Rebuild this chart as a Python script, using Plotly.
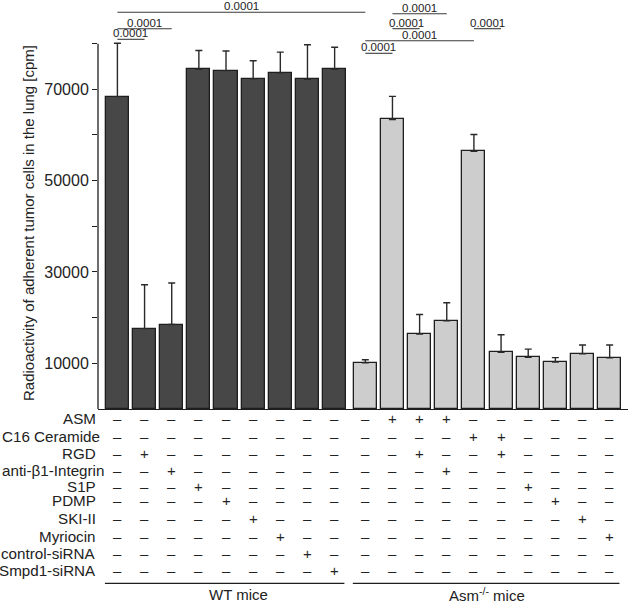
import plotly.graph_objects as go

# ---------------- data ----------------
treatments = ["ASM", "C16 Ceramide", "RGD", "anti-β1-Integrin", "S1P", "PDMP",
              "SKI-II", "Myriocin", "control-siRNA", "Smpd1-siRNA"]

wt_values = [68400, 17600, 18500, 74400, 74100, 72300, 73600, 72200, 74400]
wt_errors = [11700, 9600, 9100, 4100, 4300, 3950, 4550, 7550, 4800]
wt_plus = [[], ["RGD"], ["anti-β1-Integrin"], ["S1P"], ["PDMP"], ["SKI-II"],
           ["Myriocin"], ["control-siRNA"], ["Smpd1-siRNA"]]

asm_values = [10100, 63400, 16400, 19300, 56400, 12400, 11300, 10300, 12100, 11200]
asm_errors = [700, 5050, 4300, 3950, 3700, 3850, 1800, 950, 1900, 2800]
asm_plus = [[], ["ASM"], ["ASM", "RGD"], ["ASM", "anti-β1-Integrin"], ["C16 Ceramide"],
            ["C16 Ceramide", "RGD"], ["S1P"], ["PDMP"], ["SKI-II"], ["Myriocin"]]

y_tick_vals = [10000, 20000, 30000, 40000, 50000, 60000, 70000, 80000]
y_tick_text = ["10000", "", "30000", "", "50000", "", "70000", ""]

group_labels = ["WT mice", "Asm<sup>-/-</sup> mice"]
y_title = "Radioactivity of adherent tumor cells in the lung [cpm]"

# comparisons: (group a, bar a, group b, bar b, p-value text)
comparisons = [("WT", 0, "Asm", 0, "0.0001"),
               ("WT", 0, "WT", 2, "0.0001"),
               ("WT", 0, "WT", 1, "0.0001"),
               ("Asm", 1, "Asm", 3, "0.0001"),
               ("Asm", 1, "Asm", 2, "0.0001"),
               ("Asm", 4, "Asm", 5, "0.0001"),
               ("Asm", 0, "Asm", 4, "0.0001"),
               ("Asm", 0, "Asm", 1, "0.0001")]

# ---------------- layout helpers ----------------
W, H = 631, 603
ML, MR, MT, MB = 98, 3, 0, 194
PLOT_W = W - ML - MR
PLOT_H = H - MT - MB              # 409 px
PX_PER_UNIT = 45.67 / 10000.0
Y_MAX = PLOT_H / PX_PER_UNIT
GROUP_GAP = 0.13
BAR_W = 0.85
X_RANGE = [-0.715, 18.805]

wt_x = [i for i in range(len(wt_values))]
asm_x = [len(wt_values) + GROUP_GAP + j for j in range(len(asm_values))]
pos = {"WT": wt_x, "Asm": asm_x}


def py(px):
    """pixel row (from top of figure) -> paper y"""
    return (MT + PLOT_H - px) / PLOT_H


def yval(px):
    return (MT + PLOT_H - px) / PX_PER_UNIT


fig = go.Figure()

err_style = dict(type="data", symmetric=False, color="#2a2a2a", thickness=1.4, width=3.5)

fig.add_trace(go.Bar(
    x=wt_x, y=wt_values, width=BAR_W,
    marker=dict(color="#474747", line=dict(color="#1e1e1e", width=1.3)),
    error_y=dict(array=wt_errors, arrayminus=[0] * len(wt_errors), **err_style),
    showlegend=False, hoverinfo="skip"))

fig.add_trace(go.Bar(
    x=asm_x, y=asm_values, width=BAR_W,
    marker=dict(color="#cdcdcd", line=dict(color="#1e1e1e", width=1.3)),
    error_y=dict(array=asm_errors, arrayminus=[0] * len(asm_errors), **err_style),
    showlegend=False, hoverinfo="skip"))

shapes = []
annotations = []

# y axis spine (only up to 80000)
shapes.append(dict(type="line", xref="paper", yref="y", x0=0, x1=0, y0=0, y1=80000,
                   line=dict(color="#1e1e1e", width=1.3)))

# significance brackets (line level in pixels from top)
bracket_px = [12.3, 28.7, 39.3, 13.7, 28.7, 28.7, 40.7, 53.3]
for (ga, ia, gb, ib, txt), lp in zip(comparisons, bracket_px):
    xa, xb = pos[ga][ia], pos[gb][ib]
    lv = yval(lp)
    shapes.append(dict(type="line", xref="x", yref="y", x0=xa, x1=xb, y0=lv, y1=lv,
                       line=dict(color="#3a3a3a", width=1.1)))
    annotations.append(dict(x=(xa + xb) / 2, y=lv, xref="x", yref="y", text=txt,
                            showarrow=False, xanchor="center", yanchor="middle", yshift=6,
                            font=dict(size=11.5, color="#222")))

# treatment table
row_px = [418.3, 436, 453.3, 470.3, 486.7, 500.7, 518.3, 536, 553.3, 570.7]
left_aligned_rows = {"anti-β1-Integrin", "C16 Ceramide"}
all_x = wt_x + asm_x
all_plus = wt_plus + asm_plus
for r, (name, rp) in enumerate(zip(treatments, row_px)):
    if name in left_aligned_rows:
        lab = dict(x=-ML / PLOT_W, xanchor="left", xshift=0)
    else:
        lab = dict(x=0, xanchor="right", xshift=0)
    annotations.append(dict(y=py(rp), xref="paper", yref="paper", text=name,
                            showarrow=False, yanchor="middle",
                            font=dict(size=15.2, color="#222"), **lab))
    for xc, plus in zip(all_x, all_plus):
        annotations.append(dict(x=xc, y=py(rp), xref="x", yref="paper",
                                text="+" if name in plus else "–",
                                showarrow=False, xanchor="center", yanchor="middle",
                                font=dict(size=15, color="#222")))

# group lines and labels
line_py = py(583.3)
for xs, lab, lab_x in [(wt_x, group_labels[0], 4.47), (asm_x, group_labels[1], None)]:
    shapes.append(dict(type="line", xref="x", yref="paper", x0=xs[0] - 0.46, x1=xs[-1] + 0.36,
                       y0=line_py, y1=line_py, line=dict(color="#1e1e1e", width=1.3)))
    cx = lab_x if lab_x is not None else (xs[0] + xs[-1]) / 2
    annotations.append(dict(x=cx, y=py(594.5), xref="x", yref="paper", text=lab,
                            showarrow=False, xanchor="center", yanchor="middle",
                            font=dict(size=15, color="#222")))

# y-axis title
annotations.append(dict(x=0, y=py(223), xref="paper", yref="paper", text=y_title,
                        textangle=-90, showarrow=False, xanchor="center", yanchor="middle",
                        xshift=-70, font=dict(size=15, color="#222")))

fig.update_layout(
    width=W, height=H,
    margin=dict(l=ML, r=MR, t=MT, b=MB, pad=0),
    paper_bgcolor="white", plot_bgcolor="white",
    font=dict(family="Liberation Sans, Arial, sans-serif", color="#222"),
    bargap=0,
    xaxis=dict(range=X_RANGE, showline=True, linecolor="#1e1e1e", linewidth=1.3,
               showticklabels=False, ticks="", showgrid=False, zeroline=False, fixedrange=True),
    yaxis=dict(range=[0, Y_MAX], showline=False, tickmode="array",
               tickvals=y_tick_vals, ticktext=y_tick_text, ticks="outside", ticklen=5,
               tickwidth=1.3, tickcolor="#1e1e1e", tickfont=dict(size=16, color="#222"),
               showgrid=False, zeroline=False, fixedrange=True),
    shapes=shapes, annotations=annotations,
)

fig.write_html("out.html", config={"displayModeBar": False},
               post_script="document.body.style.margin='0';document.body.style.padding='0';")
